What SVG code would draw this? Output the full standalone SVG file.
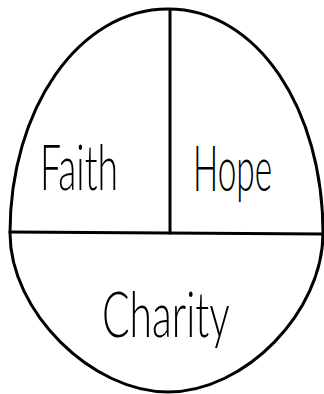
<svg xmlns="http://www.w3.org/2000/svg" width="324" height="394" viewBox="0 0 324 394">
<style>
.ln{fill:none;stroke:#000;stroke-width:3;stroke-linecap:round}
.t{font-family:"Lato","Open Sans","DejaVu Sans",sans-serif;font-weight:300;fill:#000;font-size:64px}
</style>
<rect width="324" height="394" fill="#fff"/>
<g id="connectors">
<path class="ln" d="M168,9 C258,9 323,110 323,233 C323,312 245,392 168,392 C92,392 10,312 10,233 C10,110 78,9 168,9 Z"/>
<path class="ln" d="M170,10 L170,233"/>
<path class="ln" d="M10,232 L323,234"/>
</g>
<g id="faith"><text class="t" transform="translate(40,190) scale(0.6,1)" textLength="130" lengthAdjust="spacingAndGlyphs">Faith</text></g>
<g id="hope"><text class="t" transform="translate(193,191) scale(0.6,1)" textLength="132" lengthAdjust="spacingAndGlyphs">Hope</text></g>
<g id="charity"><text class="t" transform="translate(102,337) scale(0.6,1)" textLength="213" lengthAdjust="spacingAndGlyphs">Charity</text></g>
</svg>
